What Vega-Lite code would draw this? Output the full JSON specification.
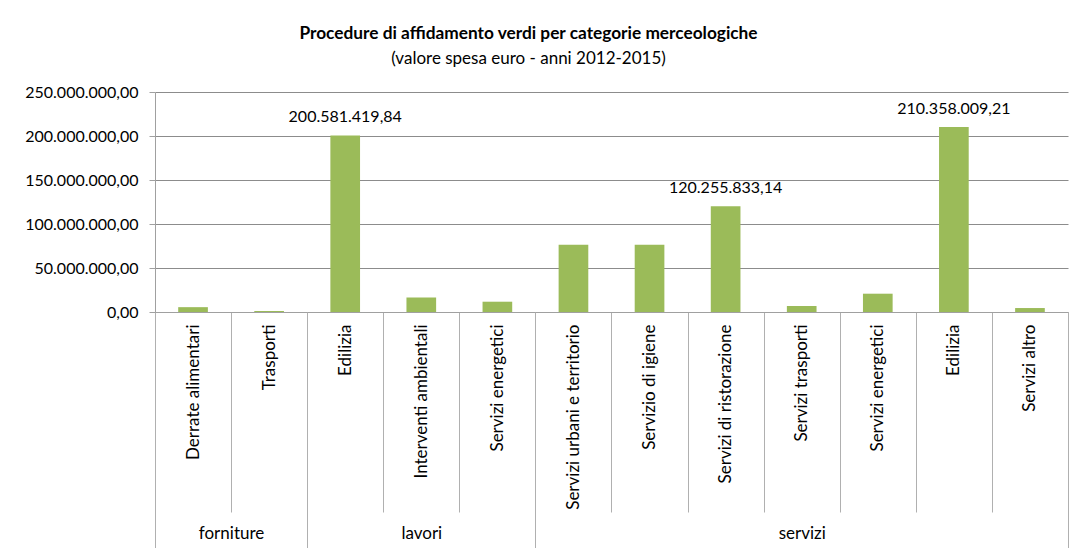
{
  "$schema": "https://vega.github.io/schema/vega-lite/v6.json",
  "width": 913,
  "height": 220,
  "autosize": {"type": "none"},
  "padding": {"left": 155, "top": 92, "right": 6, "bottom": 236},
  "background": "white",
  "title": {
    "text": "Procedure di affidamento verdi per categorie merceologiche",
    "subtitle": "(valore spesa euro - anni 2012-2015)",
    "anchor": "middle",
    "frame": "group",
    "dx": -83,
    "offset": 17,
    "font": "Lato",
    "fontSize": 17.3,
    "fontWeight": "bold",
    "color": "#000000",
    "subtitleFont": "Lato",
    "subtitleFontSize": 17,
    "subtitleColor": "#000000",
    "subtitlePadding": 9
  },
  "data": {
    "values": [
      {"voce": "forniture|Derrate alimentari", "gruppo": "forniture", "categoria": "Derrate alimentari", "valore": 5500000},
      {"voce": "forniture|Trasporti", "gruppo": "forniture", "categoria": "Trasporti", "valore": 1200000},
      {"voce": "lavori|Edilizia", "gruppo": "lavori", "categoria": "Edilizia", "valore": 200581419.84},
      {"voce": "lavori|Interventi ambientali", "gruppo": "lavori", "categoria": "Interventi ambientali", "valore": 16600000},
      {"voce": "lavori|Servizi energetici", "gruppo": "lavori", "categoria": "Servizi energetici", "valore": 11700000},
      {"voce": "servizi|Servizi urbani e territorio", "gruppo": "servizi", "categoria": "Servizi urbani e territorio", "valore": 76500000},
      {"voce": "servizi|Servizio di igiene", "gruppo": "servizi", "categoria": "Servizio di igiene", "valore": 76500000},
      {"voce": "servizi|Servizi di ristorazione", "gruppo": "servizi", "categoria": "Servizi di ristorazione", "valore": 120255833.14},
      {"voce": "servizi|Servizi trasporti", "gruppo": "servizi", "categoria": "Servizi trasporti", "valore": 6800000},
      {"voce": "servizi|Servizi energetici", "gruppo": "servizi", "categoria": "Servizi energetici", "valore": 20800000},
      {"voce": "servizi|Edilizia", "gruppo": "servizi", "categoria": "Edilizia", "valore": 210358009.21},
      {"voce": "servizi|Servizi altro", "gruppo": "servizi", "categoria": "Servizi altro", "valore": 4500000}
    ]
  },
  "encoding": {
    "y": {
      "field": "valore",
      "type": "quantitative",
      "scale": {"domain": [0, 250000000], "nice": false},
      "axis": {
        "title": null,
        "values": [0, 50000000, 100000000, 150000000, 200000000, 250000000],
        "format": ",.2f",
        "grid": true,
        "gridColor": "#8C8C8C",
        "domainColor": "#A0A0A0",
        "tickColor": "#A0A0A0",
        "tickSize": 6,
        "labelPadding": 11,
        "labelFont": "Lato",
        "labelFontSize": 16,
        "labelColor": "#000000"
      }
    }
  },
  "layer": [
    {
      "mark": {"type": "bar", "color": "#9BBB59", "width": {"band": 0.39}},
      "encoding": {
        "x": {
          "field": "voce",
          "type": "nominal",
          "sort": null,
          "scale": {"paddingInner": 0, "paddingOuter": 0},
          "axis": {
            "orient": "bottom",
            "title": null,
            "tickBand": "extent",
            "tickSize": 200,
            "tickColor": "#B0B0B0",
            "domainColor": "#A0A0A0",
            "grid": false,
            "labelExpr": "split(datum.label, '|')[1]",
            "labelAngle": -90,
            "labelAlign": "right",
            "labelBaseline": "middle",
            "labelPadding": -188,
            "labelLimit": 400,
            "labelFont": "Lato",
            "labelFontSize": 17,
            "labelColor": "#000000",
            "labelOverlap": false,
            "labelBound": false
          }
        }
      }
    },
    {
      "mark": {"type": "text", "dy": -18, "font": "Lato", "fontSize": 16, "color": "#000000", "baseline": "middle"},
      "encoding": {
        "x": {
          "field": "voce",
          "type": "nominal",
          "sort": null,
          "axis": {
            "orient": "bottom",
            "title": null,
            "values": ["forniture|Derrate alimentari", "forniture|Trasporti", "lavori|Interventi ambientali", "lavori|Servizi energetici", "servizi|Servizi trasporti", "servizi|Servizi altro"],
            "tickBand": "extent",
            "tickSize": 237,
            "tickColor": "#B0B0B0",
            "tickOpacity": {
              "condition": {"test": "indexof(['forniture|Derrate alimentari', 'lavori|Interventi ambientali', 'servizi|Servizi trasporti'], datum.value) >= 0", "value": 0},
              "value": 1
            },
            "domain": false,
            "grid": false,
            "labelExpr": "datum.value === 'forniture|Derrate alimentari' ? 'forniture' : datum.value === 'lavori|Interventi ambientali' ? 'lavori' : datum.value === 'servizi|Servizi trasporti' ? 'servizi' : ''",
            "labelAngle": 0,
            "labelAlign": "center",
            "labelBaseline": "top",
            "labelPadding": -24,
            "labelOffset": {
              "condition": {"test": "datum.value === 'forniture|Derrate alimentari'", "value": 38},
              "value": 0
            },
            "labelFont": "Lato",
            "labelFontSize": 17,
            "labelColor": "#000000",
            "labelOverlap": false,
            "labelBound": false
          }
        },
        "text": {
          "condition": {"test": "datum.valore > 100000000", "field": "valore", "type": "quantitative", "format": ",.2f"},
          "value": ""
        }
      }
    }
  ],
  "resolve": {"axis": {"x": "independent"}},
  "config": {
    "font": "Lato",
    "view": {"stroke": null},
    "locale": {
      "number": {"decimal": ",", "thousands": ".", "grouping": [3], "currency": ["", " €"]}
    }
  }
}
